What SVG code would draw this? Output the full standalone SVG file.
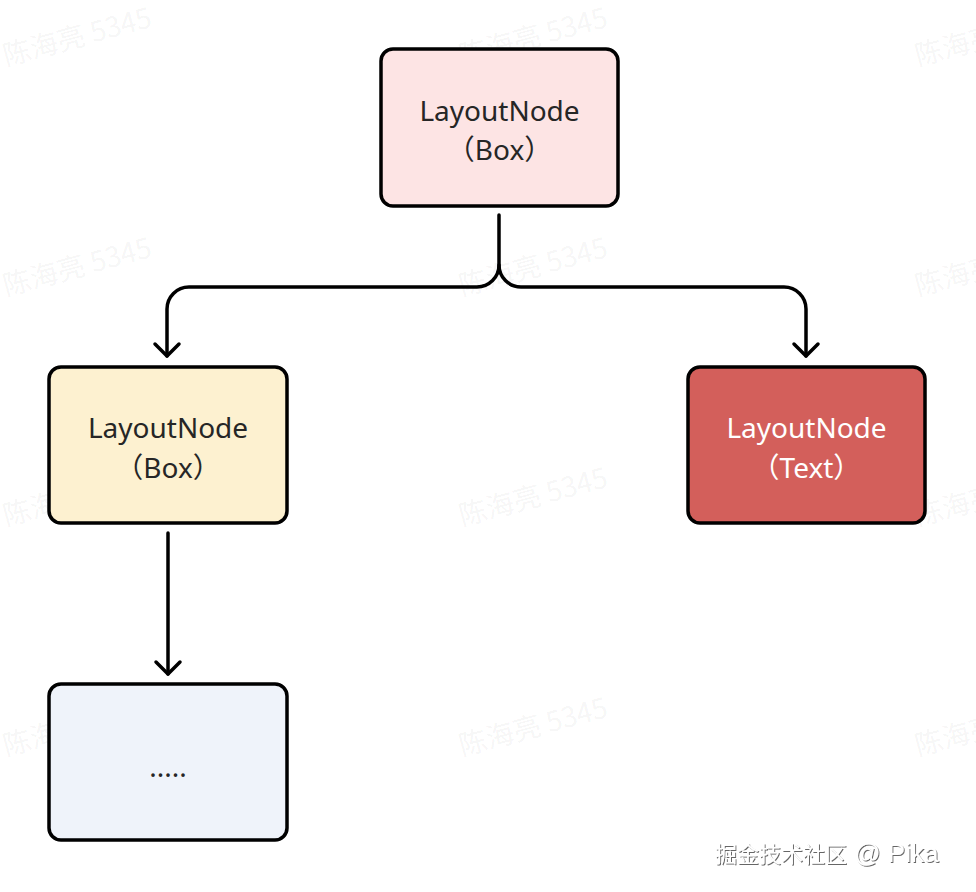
<svg xmlns="http://www.w3.org/2000/svg" width="976" height="892" viewBox="0 0 976 892">
<style>
.node{stroke:#000;stroke-width:3.5}
.lbl{font-family:"Noto Sans","Noto Sans CJK SC",sans-serif;font-size:28px;fill:#262626;text-anchor:middle}
.wm{font-family:"Noto Sans CJK SC","Liberation Sans",sans-serif;font-size:28px;fill:#000;fill-opacity:0.055}
.edge{fill:none;stroke:#000;stroke-width:3.5;stroke-linecap:round;stroke-linejoin:round}
.brand{font-family:"Noto Sans CJK SC","Liberation Sans",sans-serif;font-size:22px;fill:#fff}
</style>
<defs>
<filter id="sh" x="-10%" y="-30%" width="120%" height="160%">
<feDropShadow dx="1" dy="1" stdDeviation="0.6" flood-color="#555" flood-opacity="0.9"/>
</filter>
</defs>
<rect width="976" height="892" fill="#fff"/>
<g id="watermarks">
<text class="wm" transform="translate(6,66) rotate(-15)">陈海亮 5345</text>
<text class="wm" transform="translate(462,66) rotate(-15)">陈海亮 5345</text>
<text class="wm" transform="translate(918,66) rotate(-15)">陈海亮 5345</text>
<text class="wm" transform="translate(6,296) rotate(-15)">陈海亮 5345</text>
<text class="wm" transform="translate(462,296) rotate(-15)">陈海亮 5345</text>
<text class="wm" transform="translate(918,296) rotate(-15)">陈海亮 5345</text>
<text class="wm" transform="translate(6,526) rotate(-15)">陈海亮 5345</text>
<text class="wm" transform="translate(462,526) rotate(-15)">陈海亮 5345</text>
<text class="wm" transform="translate(918,526) rotate(-15)">陈海亮 5345</text>
<text class="wm" transform="translate(6,756) rotate(-15)">陈海亮 5345</text>
<text class="wm" transform="translate(462,756) rotate(-15)">陈海亮 5345</text>
<text class="wm" transform="translate(918,756) rotate(-15)">陈海亮 5345</text>
</g>
<g id="connectors">
<path class="edge" d="M499,215 V265 A22,22 0 0 1 477,287 H189 A22,22 0 0 0 167,309 V356"/>
<path class="edge" d="M155,344 L167,356 L179,344"/>
<path class="edge" d="M499,265 A22,22 0 0 0 521,287 H784 A22,22 0 0 1 806,309 V356"/>
<path class="edge" d="M794,344 L806,356 L818,344"/>
<path class="edge" d="M168,533 V674"/>
<path class="edge" d="M156,662 L168,674 L180,662"/>
</g>
<g id="node-root">
<rect class="node" x="381" y="49" width="237" height="157" rx="12" fill="#fde4e4"/>
<text class="lbl" x="499.5" y="121">LayoutNode</text>
<text class="lbl" x="499.5" y="160">（Box）</text>
</g>
<g id="node-box">
<rect class="node" x="49" y="367" width="238" height="156" rx="12" fill="#fdf1d0"/>
<text class="lbl" x="168" y="438">LayoutNode</text>
<text class="lbl" x="168" y="478">（Box）</text>
</g>
<g id="node-text">
<rect class="node" x="688" y="367" width="237" height="156" rx="12" fill="#d35f5b"/>
<text class="lbl" x="806.5" y="438" style="fill:#fff">LayoutNode</text>
<text class="lbl" x="806.5" y="478" style="fill:#fff">（Text）</text>
</g>
<g id="node-more">
<rect class="node" x="49" y="684" width="238" height="156" rx="12" fill="#eff3fa"/>
<text class="lbl" x="168" y="777">.....</text>
</g>
<text class="brand" x="715" y="862" filter="url(#sh)">掘金技术社区<tspan font-size="26" font-family="Liberation Sans, sans-serif"> @ Pika</tspan></text>
</svg>
